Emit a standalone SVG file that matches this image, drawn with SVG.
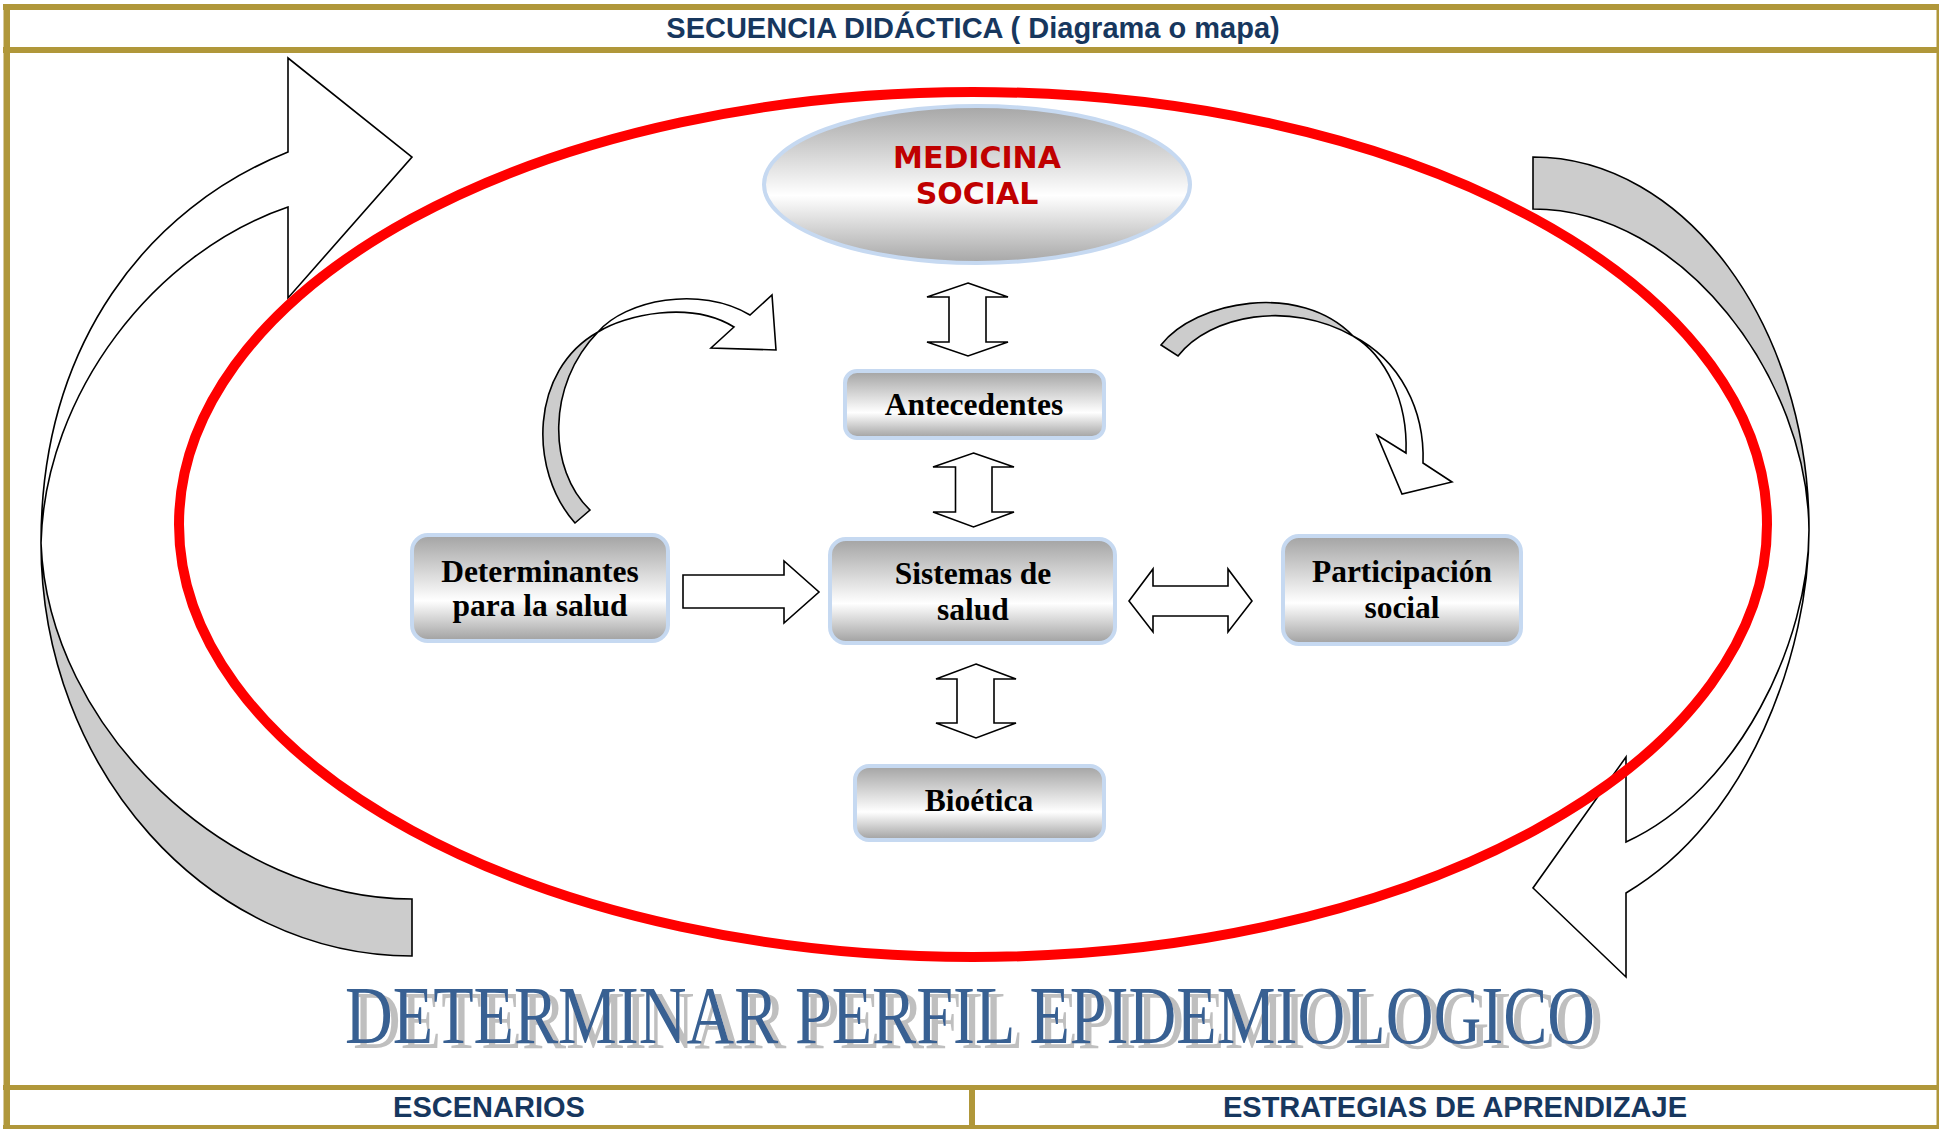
<svg xmlns="http://www.w3.org/2000/svg" width="1939" height="1129" viewBox="0 0 1939 1129">
<defs>
<linearGradient id="gbox" x1="0" y1="0" x2="0" y2="1">
<stop offset="0" stop-color="#A3A3A3"/>
<stop offset="0.62" stop-color="#FFFFFF"/>
<stop offset="1" stop-color="#A0A0A0"/>
</linearGradient>
<linearGradient id="gell" x1="0" y1="0" x2="0" y2="1">
<stop offset="0" stop-color="#A6A6A6"/>
<stop offset="0.57" stop-color="#FFFFFF"/>
<stop offset="1" stop-color="#A6A6A6"/>
</linearGradient>
<filter id="shadow" x="-5%" y="-30%" width="115%" height="170%">
<feOffset in="SourceAlpha" dx="8" dy="5" result="off"/>
<feFlood flood-color="#BFBFBF"/>
<feComposite in2="off" operator="in" result="sh"/>
<feMerge><feMergeNode in="sh"/><feMergeNode in="SourceGraphic"/></feMerge>
</filter>
</defs>
<style>
.frame{fill:#B0973A}
.hdr{font-family:"Liberation Sans",Arial,sans-serif;font-weight:bold;font-size:29px;fill:#17375E;text-anchor:middle}
.box{fill:url(#gbox);stroke:#C6D9F1;stroke-width:4}
.lbl{font-family:"Liberation Serif","Times New Roman",serif;font-weight:bold;font-size:31.5px;fill:#000;text-anchor:middle}
.arr{fill:#FFFFFF;stroke:#000;stroke-width:1.6;stroke-linejoin:miter}
.garr{fill:#CCCCCC;stroke:#000;stroke-width:1.6;stroke-linejoin:miter}
.big{font-family:"Liberation Serif","Times New Roman",serif;font-size:83px}
</style>
<rect x="0" y="0" width="1939" height="1129" fill="#FFFFFF"/>
<g id="frame">
<rect class="frame" x="3" y="4" width="1936" height="6"/>
<rect class="frame" x="3" y="47" width="1936" height="6"/>
<rect class="frame" x="3.5" y="4" width="6.5" height="1125"/>
<rect class="frame" x="1936.5" y="4" width="2.5" height="1125"/>
<rect class="frame" x="3" y="1085" width="1936" height="5"/>
<rect class="frame" x="3" y="1125" width="1936" height="4"/>
<rect class="frame" x="969" y="1085" width="6" height="44"/>
<text class="hdr" x="973" y="38">SECUENCIA DIDÁCTICA ( Diagrama o mapa)</text>
<text class="hdr" x="489" y="1117">ESCENARIOS</text>
<text class="hdr" x="1455" y="1117">ESTRATEGIAS DE APRENDIZAJE</text>
</g>
<g id="cycle-arrows">
<path class="arr" d="M288,152 C148,208 41,343 41,543 C45,393 155,252 288,207 L288,298 L412,157 L288,58 Z"/>
<path class="garr" d="M41,543 C41,770 208,956 412,956 L412,899 C230,899 48,730 41,543 Z"/>
<path class="garr" d="M1533,157 C1685,157 1809,325 1809,530 C1808,380 1684,209 1533,209 Z"/>
<path class="arr" d="M1809,530 C1809,650 1750,820 1626,893 L1626,977 L1533,888 L1626,757 L1626,842 C1740,790 1809,640 1809,530 Z"/>
</g>
<ellipse id="ring" cx="973" cy="524.5" rx="794" ry="432.5" fill="none" stroke="#FF0000" stroke-width="10"/>
<g id="connectors">
<path class="garr" d="M575,523 C528,470 530,370 598,332 C546,385 548,470 590,510 Z"/>
<path class="arr" d="M598,332 C625,300 700,285 750,315 L772,295 L776,350 L711,348 L734,327 C690,300 625,315 598,332 Z"/>
<path class="garr" d="M1161,345 C1195,301 1300,281 1353,336 C1290,300 1210,315 1178,356 Z"/>
<path class="arr" d="M1353,336 C1400,360 1425,410 1423,463 L1452,482 L1402,494 L1377,435 L1406,453 C1408,400 1385,355 1353,336 Z"/>
<path class="arr" d="M968,283 L1008,297 L986,297 L986,342 L1008,342 L968,356 L927,342 L949,342 L949,297 L927,297 Z"/>
<path class="arr" d="M973.5,453 L1014,467 L992,467 L992,512 L1014,512 L973.5,527 L933,512 L955.5,512 L955.5,467 L933,467 Z"/>
<path class="arr" d="M976,664 L1016,679 L994,679 L994,723 L1016,723 L976,738 L936,723 L957,723 L957,679 L936,679 Z"/>
<path class="arr" d="M1129,601 L1153,569 L1153,586 L1228,586 L1228,569 L1252,601 L1228,632 L1228,616 L1153,616 L1153,632 Z"/>
<path class="arr" d="M683,575 L784,575 L784,561 L819,592 L784,623 L784,608 L683,608 Z"/>
</g>
<g id="medicina-social">
<ellipse cx="977" cy="184.5" rx="213" ry="78.5" fill="url(#gell)" stroke="#C6D9F1" stroke-width="4"/>
<text x="977" y="168" font-family="'DejaVu Sans',Verdana,sans-serif" font-weight="bold" font-size="30" fill="#C00000" text-anchor="middle">MEDICINA</text>
<text x="977" y="204" font-family="'DejaVu Sans',Verdana,sans-serif" font-weight="bold" font-size="30" fill="#C00000" text-anchor="middle">SOCIAL</text>
</g>
<g id="antecedentes">
<rect class="box" x="845" y="371" width="259" height="67" rx="12"/>
<text class="lbl" x="974" y="415">Antecedentes</text>
</g>
<g id="determinantes">
<rect class="box" x="412" y="535" width="256" height="106" rx="16"/>
<text class="lbl" x="540" y="582">Determinantes</text>
<text class="lbl" x="540" y="616">para la salud</text>
</g>
<g id="sistemas">
<rect class="box" x="830" y="539" width="285" height="104" rx="16"/>
<text class="lbl" x="973" y="584">Sistemas de</text>
<text class="lbl" x="973" y="620">salud</text>
</g>
<g id="participacion">
<rect class="box" x="1283" y="536" width="238" height="108" rx="16"/>
<text class="lbl" x="1402" y="582">Participación</text>
<text class="lbl" x="1402" y="618">social</text>
</g>
<g id="bioetica">
<rect class="box" x="855" y="766" width="249" height="74" rx="14"/>
<text class="lbl" x="979" y="811">Bioética</text>
</g>
<g id="titulo">
<text class="big" x="345" y="1043" fill="#376092" filter="url(#shadow)" textLength="1250" lengthAdjust="spacingAndGlyphs">DETERMINAR PERFIL EPIDEMIOLOGICO</text>
</g>
</svg>
